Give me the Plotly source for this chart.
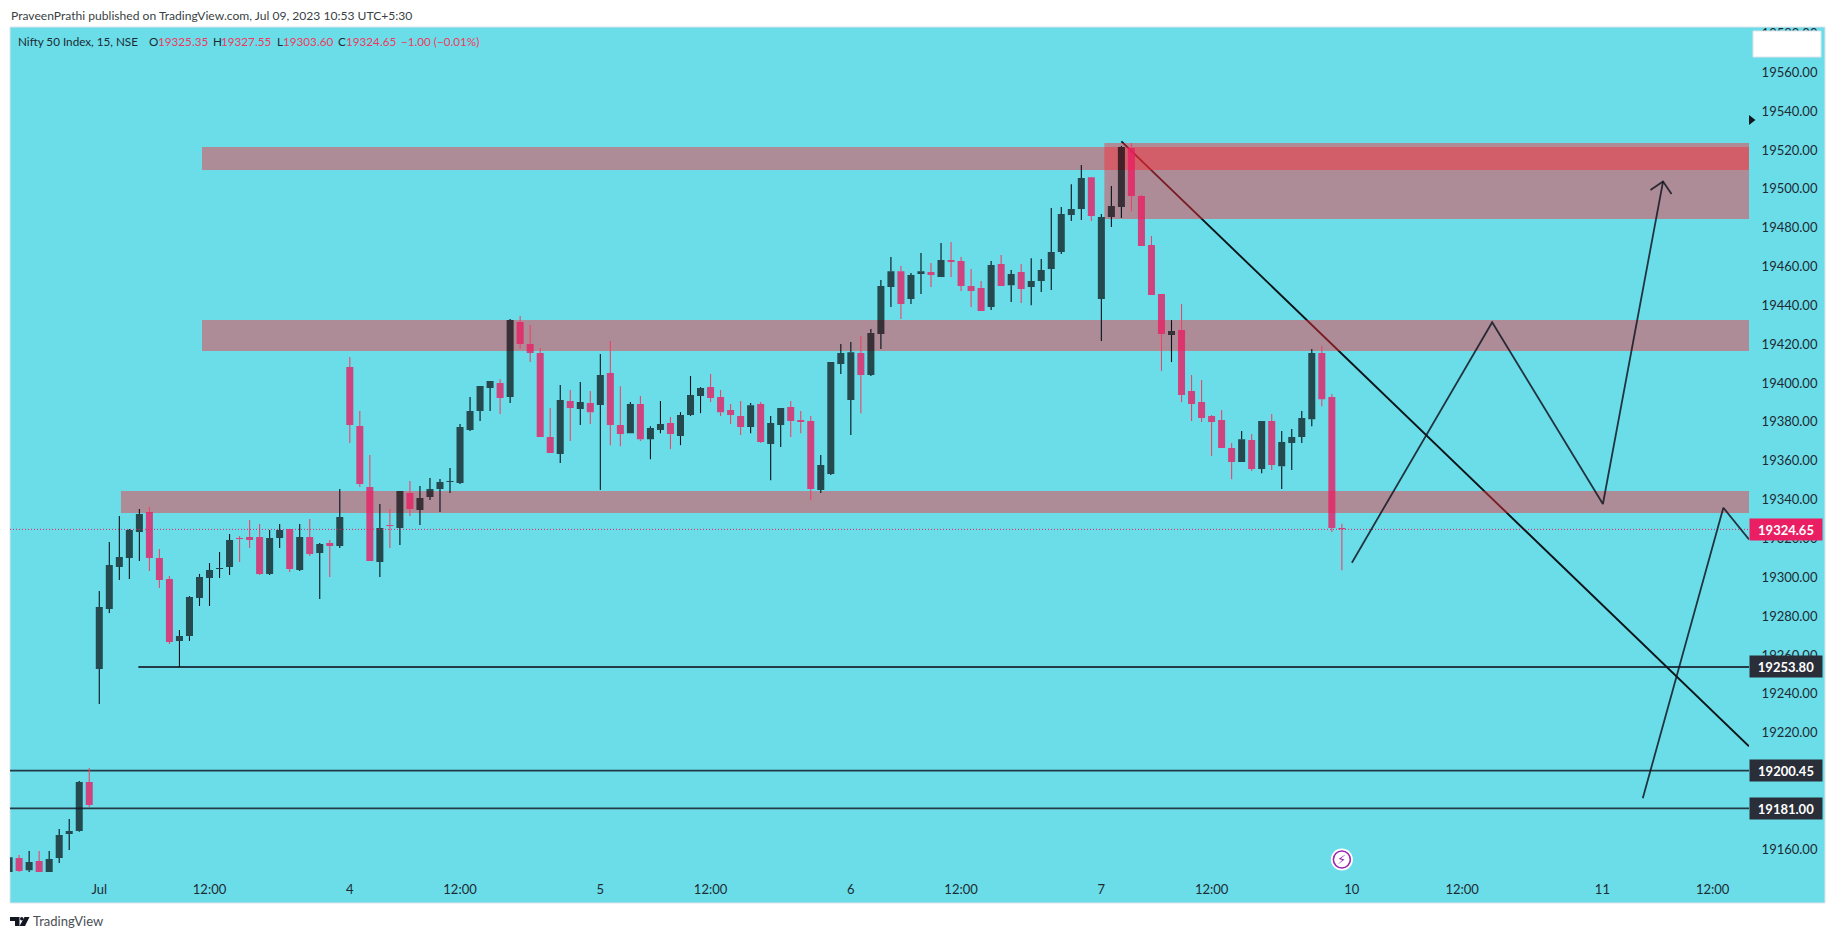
import plotly.graph_objects as go

# Nifty 50, 15 minute bars. bar 0 is the first bar of the "Jul" session
bar_index = list(range(-9, 125))
opens = [19148.2, 19155.4, 19149.2, 19153.9, 19148.2, 19155.4, 19167.8, 19169.4, 19194.6,
         19252.8, 19283.6, 19305.3, 19309.9, 19323.3, 19333.6, 19309.9, 19299.1, 19267.2, 19269.7,
         19289.3, 19299.6, 19304.3, 19305.3, 19320.2, 19320.7, 19320.7, 19301.7, 19320.2, 19324.8,
         19303.7, 19320.7, 19312.5, 19317.6, 19316.1, 19408.2, 19377.9, 19346.5, 19307.8, 19326.9,
         19325.3, 19343.4, 19334.6, 19341.3, 19345.4, 19349.0, 19348.5, 19375.8, 19385.6, 19397.4,
         19400.0, 19392.8, 19431.4, 19420.1, 19415.5, 19372.2, 19363.5, 19390.7, 19386.6, 19389.7,
         19388.7, 19405.1, 19378.4, 19374.2, 19389.2, 19371.1, 19375.8, 19379.4, 19372.7, 19383.5,
         19393.3, 19397.9, 19392.8, 19386.1, 19383.0, 19377.3, 19389.2, 19368.6, 19378.4, 19387.6,
         19380.9, 19380.4, 19344.9, 19353.1, 19409.8, 19391.2, 19415.4, 19404.1, 19425.2, 19449.4,
         19457.6, 19443.2, 19456.1, 19457.1, 19454.6, 19463.3, 19462.8, 19449.9, 19448.9, 19439.1,
         19461.3, 19450.4, 19457.1, 19449.4, 19452.5, 19458.7, 19467.4, 19486.5, 19489.6, 19506.0,
         19443.2, 19485.5, 19490.6, 19521.0, 19496.3, 19471.0, 19445.8, 19424.7, 19427.3, 19395.9,
         19390.2, 19383.0, 19380.9, 19366.5, 19359.3, 19370.6, 19355.7, 19380.4, 19357.2, 19369.1,
         19372.2, 19381.4, 19415.4, 19392.8, 19325.35]
highs = [19155.9, 19157.0, 19159.0, 19159.0, 19159.0, 19170.4, 19175.5, 19195.1, 19201.8,
         19292.9, 19318.1, 19331.5, 19324.8, 19335.1, 19336.2, 19314.5, 19300.6, 19272.8, 19290.3,
         19301.7, 19307.3, 19313.0, 19322.3, 19321.2, 19329.5, 19327.4, 19324.3, 19327.4, 19324.8,
         19327.4, 19330.0, 19317.6, 19319.2, 19345.4, 19413.4, 19385.6, 19363.0, 19337.7, 19335.1,
         19344.4, 19349.5, 19347.0, 19351.1, 19350.6, 19356.2, 19378.9, 19392.8, 19398.5, 19401.0,
         19402.0, 19433.0, 19434.5, 19429.9, 19418.0, 19387.1, 19399.0, 19396.4, 19400.5, 19395.9,
         19415.0, 19421.6, 19398.4, 19390.2, 19393.3, 19377.8, 19390.7, 19382.5, 19385.0, 19403.6,
         19397.9, 19404.6, 19396.4, 19389.2, 19390.7, 19389.7, 19390.2, 19383.0, 19387.1, 19390.7,
         19385.6, 19383.0, 19362.9, 19410.8, 19420.1, 19421.1, 19424.2, 19427.8, 19453.0, 19464.9,
         19460.2, 19456.6, 19466.9, 19461.8, 19472.1, 19472.6, 19464.9, 19458.7, 19452.5, 19462.8,
         19465.9, 19458.2, 19461.3, 19464.3, 19463.8, 19490.1, 19490.6, 19502.4, 19512.2, 19506.0,
         19487.0, 19501.4, 19522.0, 19523.6, 19496.8, 19475.7, 19445.8, 19432.4, 19440.7, 19404.1,
         19401.5, 19383.5, 19386.1, 19369.1, 19375.3, 19373.7, 19380.4, 19384.0, 19375.3, 19376.3,
         19385.6, 19417.5, 19419.0, 19394.3, 19327.55]
lows = [19148.2, 19148.2, 19148.2, 19148.2, 19148.2, 19152.9, 19159.6, 19169.0, 19181.7,
        19234.7, 19281.6, 19298.6, 19299.1, 19308.4, 19303.2, 19294.5, 19265.6, 19253.8, 19267.2,
        19285.2, 19285.2, 19299.6, 19301.2, 19307.8, 19315.1, 19301.2, 19301.2, 19315.1, 19302.7,
        19303.2, 19310.9, 19288.8, 19300.1, 19315.1, 19369.1, 19346.5, 19308.4, 19300.1, 19315.1,
        19316.6, 19331.5, 19326.9, 19339.8, 19333.6, 19343.4, 19348.0, 19375.3, 19380.4, 19385.6,
        19384.0, 19389.7, 19417.5, 19410.8, 19372.2, 19364.0, 19358.8, 19370.2, 19378.4, 19378.9,
        19344.9, 19368.0, 19367.5, 19374.2, 19370.1, 19360.8, 19374.2, 19366.0, 19368.0, 19383.0,
        19384.5, 19390.2, 19383.0, 19378.9, 19373.2, 19374.2, 19369.1, 19350.0, 19367.0, 19372.2,
        19374.2, 19339.7, 19343.4, 19352.6, 19404.6, 19373.2, 19384.5, 19403.6, 19417.5, 19439.1,
        19432.9, 19440.7, 19445.8, 19449.4, 19454.6, 19454.6, 19447.4, 19439.1, 19437.1, 19437.6,
        19449.9, 19441.7, 19441.2, 19440.1, 19446.8, 19447.9, 19466.4, 19483.4, 19483.9, 19483.4,
        19421.6, 19480.3, 19484.9, 19488.5, 19470.5, 19445.3, 19406.2, 19410.8, 19390.2, 19380.4,
        19379.9, 19362.4, 19366.5, 19350.5, 19359.3, 19354.7, 19353.6, 19355.2, 19345.4, 19355.2,
        19369.1, 19377.8, 19388.1, 19323.3, 19303.6]
closes = [19155.9, 19148.7, 19153.4, 19148.2, 19154.9, 19167.3, 19169.4, 19194.6, 19182.7,
          19284.7, 19306.3, 19310.4, 19324.3, 19332.6, 19309.9, 19298.6, 19266.6, 19269.7, 19289.8,
          19300.1, 19303.7, 19304.8, 19319.2, 19319.7, 19319.2, 19301.7, 19320.2, 19324.3, 19304.2,
          19320.7, 19312.0, 19317.1, 19316.1, 19331.0, 19378.4, 19348.0, 19308.4, 19325.3, 19326.4,
          19344.4, 19335.1, 19340.8, 19345.4, 19349.0, 19349.5, 19377.3, 19385.6, 19398.5, 19401.0,
          19392.3, 19432.4, 19420.1, 19415.5, 19372.2, 19364.0, 19391.3, 19387.1, 19390.2, 19385.0,
          19404.1, 19378.4, 19373.7, 19389.2, 19371.1, 19376.8, 19378.9, 19373.7, 19383.5, 19393.8,
          19397.4, 19392.3, 19385.0, 19383.5, 19377.3, 19388.6, 19369.6, 19379.4, 19387.1, 19380.4,
          19379.9, 19345.4, 19357.8, 19410.8, 19415.4, 19415.9, 19404.1, 19425.7, 19449.9, 19457.6,
          19440.7, 19455.6, 19457.6, 19455.6, 19463.3, 19462.3, 19449.9, 19447.4, 19437.1, 19460.7,
          19449.9, 19456.1, 19448.4, 19452.5, 19458.2, 19467.4, 19487.0, 19489.6, 19505.5, 19486.0,
          19485.5, 19491.1, 19521.5, 19496.3, 19470.5, 19445.3, 19425.2, 19426.8, 19393.8, 19389.2,
          19382.0, 19379.9, 19366.5, 19359.3, 19371.1, 19355.7, 19380.4, 19357.8, 19369.6, 19372.2,
          19382.0, 19415.4, 19391.7, 19325.3, 19324.65]

time_ticks = [0, 11, 25, 36, 50, 61, 75, 86, 100, 111, 125, 136, 150, 161]
time_labels = ["Jul", "12:00", "4", "12:00", "5", "12:00", "6", "12:00", "7", "12:00",
               "10", "12:00", "11", "12:00"]
price_ticks = list(range(19160, 19600, 20))

x_range = [-8.91, 164.63]
y_range = [19146.7, 19583.3]

# drawn levels and zones
last_price = 19324.65
level_prices = [19253.80, 19200.45, 19181.00]
level_starts = [3.9, x_range[0], x_range[0]]
zone_starts = [10.25, 10.25, 2.16, 100.3]
zone_tops = [19521.5, 19432.4, 19344.4, 19523.6]
zone_bottoms = [19509.7, 19416.5, 19333.1, 19484.4]

trend_x = [102.0, x_range[1]]
trend_y = [19524.4, 19213.0]
path_x = [125.0, 139.0, 150.05, 156.05]
path_y = [19307.5, 19431.3, 19337.7, 19503.7]
arrow_x = [154.8, 156.05, 156.9]
arrow_y = [19499.4, 19503.7, 19497.3]
second_x = [154.03, 162.07, x_range[1]]
second_y = [19186.2, 19335.8, 19319.5]

FONT = "Lato"
INK = "#1d2b33"
PINK = "#e91e63"
LEGEND_RED = "#ee3a5e"
TEAL_BG = "#6bdde9"

# pane rectangle in page pixels
L, R, T, B = 10, 1749, 27, 875


def xp(px):
    return (px - L) / (R - L)


def yp(py):
    return (B - py) / (B - T)


def wick_path(up):
    xs, ys = [], []
    for k, o, h, l, c in zip(bar_index, opens, highs, lows, closes):
        if (c >= o) != up:
            continue
        xs += [k, k, None, k, k, None]
        ys += [h, max(o, c), None, min(o, c), l, None]
    return xs, ys


fig = go.Figure()

# levels sit under the candles
for start, price in zip(level_starts, level_prices):
    fig.add_trace(go.Scatter(x=[start, x_range[1]], y=[price, price], mode="lines",
                             line=dict(color="rgba(19,23,34,0.82)", width=1.8), hoverinfo="skip"))

fig.add_trace(go.Candlestick(
    x=bar_index, open=opens, high=highs, low=lows, close=closes,
    increasing=dict(line=dict(color="rgba(4,6,10,0.69)", width=0), fillcolor="rgba(4,6,10,0.69)"),
    decreasing=dict(line=dict(color="rgba(233,30,99,0.8)", width=0), fillcolor="rgba(233,30,99,0.8)"),
    whiskerwidth=0,
))

xs, ys = wick_path(True)
fig.add_trace(go.Scatter(x=xs, y=ys, mode="lines", line=dict(color="#03141a", width=1.1), hoverinfo="skip"))
xs, ys = wick_path(False)
fig.add_trace(go.Scatter(x=xs, y=ys, mode="lines", line=dict(color="#ee4468", width=1.1), hoverinfo="skip"))

# last price line
fig.add_trace(go.Scatter(x=x_range, y=[last_price, last_price], mode="lines",
                         line=dict(color=PINK, width=1, dash="1px,2px"), hoverinfo="skip"))

# hand drawn paths
for px_, py_ in [(path_x, path_y), (arrow_x, arrow_y), (second_x, second_y)]:
    fig.add_trace(go.Scatter(x=px_, y=py_, mode="lines",
                             line=dict(color="rgba(19,23,34,0.85)", width=1.8), hoverinfo="skip"))

# session icon
fig.add_trace(go.Scatter(x=[124], y=[19154.7], mode="markers", hoverinfo="skip",
                         marker=dict(size=22, color="white", line=dict(width=0))))
fig.add_trace(go.Scatter(x=[124], y=[19154.7], mode="markers", hoverinfo="skip",
                         marker=dict(size=17, color="white", line=dict(color="#9c27b0", width=1.6))))

shapes = [
    # pane and top right box
    dict(type="rect", xref="paper", yref="paper", x0=xp(10), x1=xp(1825), y0=yp(27), y1=yp(903),
         fillcolor=TEAL_BG, line=dict(color="#e0e3eb", width=1), layer="below"),
    dict(type="line", x0=trend_x[0], x1=trend_x[1], y0=trend_y[0], y1=trend_y[1],
         line=dict(color="#0b1419", width=1.9), layer="below"),
]
for start, top, bottom in zip(zone_starts, zone_tops, zone_bottoms):
    shapes.append(dict(type="rect", x0=start, x1=x_range[1], y0=bottom, y1=top,
                       fillcolor="rgba(255,39,51,0.45)", line=dict(width=0), layer="below"))
shapes.append(dict(type="rect", xref="paper", yref="paper", x0=xp(1753), x1=xp(1821), y0=yp(31), y1=yp(57),
                   fillcolor="white", line=dict(color="#e0e3eb", width=1), layer="above"))
# marker on the price scale
shapes.append(dict(type="path", xref="paper", yref="paper", line=dict(width=0), fillcolor="#131722", layer="above",
                   path=f"M {xp(1749)} {yp(115)} L {xp(1755.5)} {yp(120)} L {xp(1749)} {yp(125)} Z"))
# TradingView mark
logo = "#131722"
shapes += [
    dict(type="path", xref="paper", yref="paper", line=dict(width=0), fillcolor=logo, layer="above",
         path=f"M {xp(10)} {yp(917)} L {xp(19.5)} {yp(917)} L {xp(19.5)} {yp(926)} L {xp(15)} {yp(926)} "
              f"L {xp(15)} {yp(921)} L {xp(10)} {yp(921)} Z"),
    dict(type="circle", xref="paper", yref="paper", x0=xp(20), x1=xp(23.5), y0=yp(917), y1=yp(920.5),
         fillcolor=logo, line=dict(width=0), layer="above"),
    dict(type="path", xref="paper", yref="paper", line=dict(width=0), fillcolor=logo, layer="above",
         path=f"M {xp(24.5)} {yp(917)} L {xp(29.5)} {yp(917)} L {xp(25)} {yp(926)} L {xp(19.5)} {yp(926)} Z"),
]

annotations = []


def page_text(text, px, py, size, color=INK):
    annotations.append(dict(text=text, xref="paper", yref="paper", x=xp(px), y=yp(py), xanchor="left",
                            yanchor="middle", showarrow=False, font=dict(family=FONT, size=size, color=color)))


page_text("PraveenPrathi published on TradingView.com, Jul 09, 2023 10:53 UTC+5:30", 9, 15, 12.1, "#3a3f45")
page_text("TradingView", 31, 921, 13, "#4a4f55")
legend_parts = [
    ("Nifty 50 Index, 15, NSE", 16, INK),
    ("O", 147, INK), ("19325.35", 156, LEGEND_RED),
    ("H", 211, INK), ("19327.55", 219, LEGEND_RED),
    ("L", 275, INK), ("19303.60", 281, LEGEND_RED),
    ("C", 336, INK), ("19324.65", 344, LEGEND_RED),
    ("\u22121.00 (\u22120.01%)", 399, LEGEND_RED),
]
for text, px, color in legend_parts:
    page_text(text, px, 41, 11.7, color)

# price tags on the scale
for price, bg in [(last_price, PINK)] + [(p, "#2a2e39") for p in level_prices]:
    annotations.append(dict(text=f"<b>{price:.2f}</b>", xref="paper", yref="y", x=xp(1749), y=price,
                            xanchor="left", yanchor="middle", showarrow=False, width=72, height=21,
                            bgcolor=bg, borderpad=0, align="center",
                            font=dict(family=FONT, size=13, color="white")))
# bolt in the session icon
annotations.append(dict(text="\u26a1", x=124, y=19154.7, showarrow=False, xanchor="center", yanchor="middle",
                        font=dict(family="DejaVu Sans", size=13, color="#9c27b0")))

fig.update_layout(
    width=1835, height=939,
    margin=dict(l=L, r=1835 - R, t=T, b=939 - B, autoexpand=False),
    paper_bgcolor="white",
    plot_bgcolor="rgba(0,0,0,0)",
    showlegend=False,
    boxgap=0.3,
    boxgroupgap=0,
    shapes=shapes,
    annotations=annotations,
    font=dict(family=FONT, size=13, color=INK),
    xaxis=dict(range=x_range, tickmode="array", tickvals=time_ticks, ticktext=time_labels,
               showgrid=False, zeroline=False, showline=False, ticks="outside", ticklen=2,
               tickcolor="rgba(0,0,0,0)", rangeslider=dict(visible=False), tickfont=dict(size=13, color=INK)),
    yaxis=dict(range=y_range, side="right", tickmode="array", tickvals=price_ticks, tickformat=".2f",
               showgrid=False, zeroline=False, showline=False, ticks="outside", ticklen=9,
               tickcolor="rgba(0,0,0,0)", tickfont=dict(size=13, color=INK)),
)

fig.write_html("out.html", config=dict(displayModeBar=False),
               post_script="document.body.style.margin='0';")
